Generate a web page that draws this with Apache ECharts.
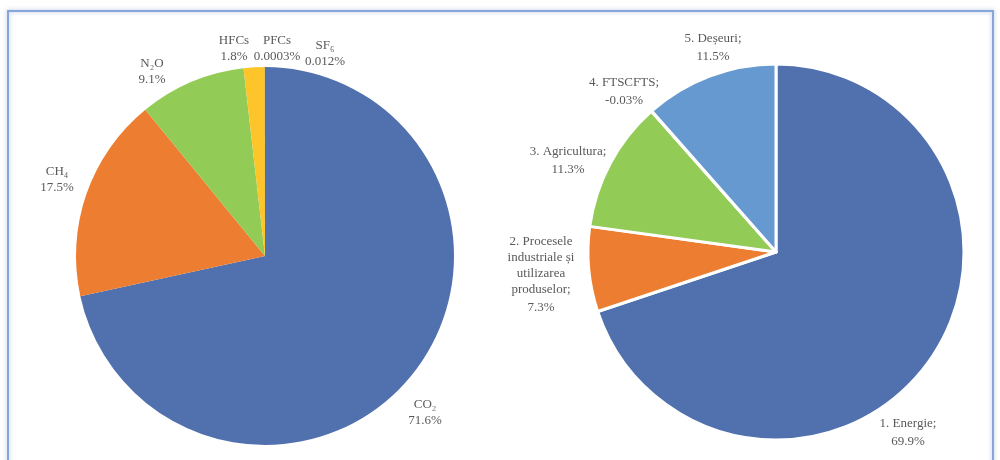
<!DOCTYPE html>
<html><head><meta charset="utf-8">
<script src="https://cdn.jsdelivr.net/npm/echarts@6/dist/echarts.min.js"></script>
<style>html,body{margin:0;padding:0;background:#fff}#c{width:1000px;height:460px}</style>
</head><body><div id="c"></div>
<script>
// Left pie: gases
const gasNames = ['CO₂', 'CH₄', 'N₂O', 'HFCs', 'PFCs', 'SF₆'];
const gasValues = [71.6, 17.5, 9.1, 1.8, 0.0003, 0.012];
const gasLabels = ['71.6%', '17.5%', '9.1%', '1.8%', '0.0003%', '0.012%'];
const gasColors = ['#5070AE', '#ED7D31', '#93CB57', '#FEC52A', '#FEC52A', '#5070AE'];

// Right pie: sectors
const sectorNames = ['1. Energie;', '2. Procesele\nindustriale și\nutilizarea\nproduselor;', '3. Agricultura;', '4. FTSCFTS;', '5. Deșeuri;'];
const sectorValues = [69.9, 7.3, 11.3, -0.03, 11.5];
const sectorLabels = ['69.9%', '7.3%', '11.3%', '-0.03%', '11.5%'];
const sectorColors = ['#5070AE', '#ED7D31', '#93CB57', '#A5A5A5', '#6699CF'];

// layout (not data)
const leftCenter = [265, 256], rightCenter = [776, 252];
const gasLabelOffset = [[160, 157], [-208, -76], [-113, -184], [-31, -207], [12, -207], [60, -202]];
const sectorLabelOffset = [[132, 182], [-235, 24], [-208, -90], [-152, -159], [-63, -203]];

const chart = echarts.init(document.getElementById('c'));
const baseLabel = {show: true, position: 'outside', overflow: 'none', fontFamily: 'Liberation Serif', fontSize: 13, color: '#595959', align: 'center'};

function placer(center, offs) {
  return function (p) {
    const o = offs[p.dataIndex];
    return {x: center[0] + o[0], y: center[1] + o[1], align: 'center', verticalAlign: 'middle'};
  };
}

chart.setOption({
  animation: false,
  graphic: [{
    type: 'rect', shape: {x: 8, y: 11, width: 985, height: 470},
    style: {fill: 'none', stroke: '#86A5DA', lineWidth: 2, shadowBlur: 4, shadowColor: 'rgba(80,110,180,0.45)'}
  }],
  series: [{
    type: 'pie', center: leftCenter, radius: 189, startAngle: 90, clockwise: true,
    data: gasNames.map((n, i) => ({name: n, value: gasValues[i], itemStyle: {color: gasColors[i]},
      label: {formatter: n + '\n' + gasLabels[i]}})),
    label: Object.assign({lineHeight: 16}, baseLabel),
    labelLine: {show: false},
    labelLayout: placer(leftCenter, gasLabelOffset),
    emphasis: {disabled: true}
  }, {
    type: 'pie', center: rightCenter, radius: 188, startAngle: 90, clockwise: true,
    itemStyle: {borderColor: '#fff', borderWidth: 3},
    data: sectorNames.map((n, i) => ({name: n, value: Math.abs(sectorValues[i]), itemStyle: {color: sectorColors[i]},
      label: {formatter: '{a|' + n.split('\n').join('}\n{a|') + '}\n{b|' + sectorLabels[i] + '}'}})),
    label: Object.assign({lineHeight: 16, rich: {
      a: {fontFamily: 'Liberation Serif', fontSize: 13, color: '#595959', lineHeight: 16, align: 'center'},
      b: {fontFamily: 'Liberation Serif', fontSize: 13, color: '#595959', lineHeight: 20, align: 'center'}
    }}, baseLabel),
    labelLine: {show: false},
    labelLayout: placer(rightCenter, sectorLabelOffset),
    emphasis: {disabled: true}
  }]
});
</script></body></html>
